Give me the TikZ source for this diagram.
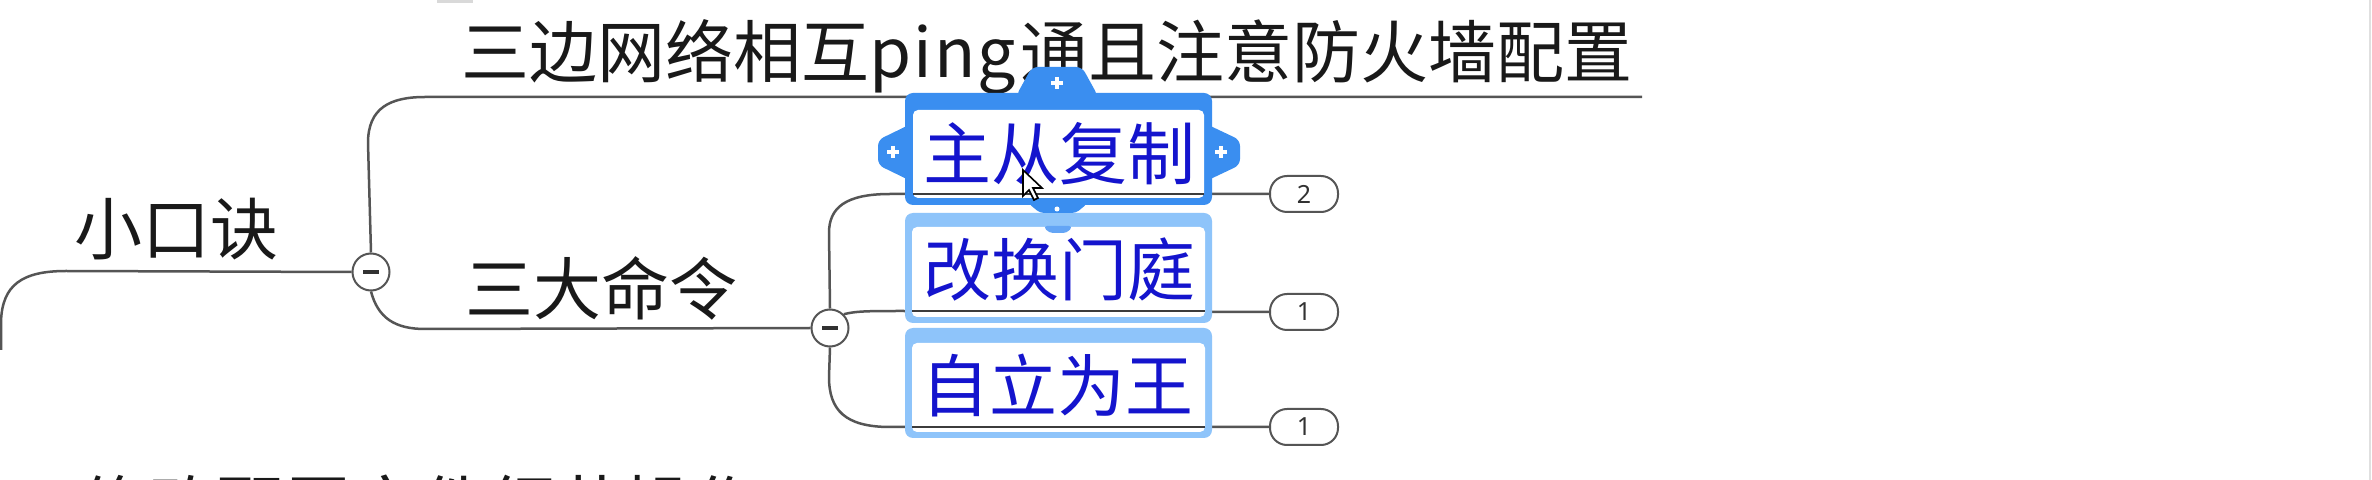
\documentclass[tikz,border=0pt]{standalone}
\usepackage{fontspec}
\usetikzlibrary{calc}
\newfontfamily\cjk{Noto Sans CJK SC}
\newfontfamily\numfont{Noto Sans}
\definecolor{linegray}{RGB}{85,85,85}
\definecolor{textblack}{RGB}{25,25,25}
\definecolor{textblue}{RGB}{20,20,205}
\definecolor{selblue}{RGB}{58,142,240}
\definecolor{lightsel}{RGB}{142,196,250}
\definecolor{midsel}{RGB}{100,165,245}
\definecolor{textdark}{RGB}{50,50,50}
\begin{document}
\begin{tikzpicture}[x=0.5pt,y=-0.5pt]
\tikzset{
  conn/.style={draw=linegray, line width=1.25pt},
  inline/.style={draw=textblack!85, line width=1.25pt},
  topic/.style={inner sep=0pt, anchor=base west, font=\cjk\fontsize{34pt}{34pt}\selectfont, text=textblack},
  seltopic/.style={topic, text=textblue},
  fold/.style={circle, draw=linegray, fill=white, line width=1pt, minimum size=18.5pt, inner sep=0pt},
  badge/.style={rounded corners=8.5pt, draw=linegray, fill=white, line width=1pt, minimum width=34pt, minimum height=18pt, inner sep=0pt, font=\numfont\fontsize{12.5pt}{12.5pt}\selectfont, text=textdark},
  plusmark/.style={draw=white, line width=2pt},
}
\useasboundingbox (0,0) rectangle (2372,480);
\clip (0,0) rectangle (2372,480);
\fill[white] (0,0) rectangle (2372,480);
% screen artefacts
\fill[black!15] (437,0) rectangle (473,3);
\draw[black!12, line width=1pt] (2370,0) -- (2370,480);

% fold circles
\node[fold] (c1) at (371,272) {};
\node[fold] (c2) at (830,328) {};

% texts
\node[topic] (root) at (74,255) {小口诀};
\node[topic] (t1) at (461,78) {三边网络相互p\kern1pt i\kern1pt n\kern1pt g\kern2pt 通且注意防火墙配置};
\node[topic] (t2) at (465,315) {三大命令};
\node[topic] (t3) at (80,532) {修改配置文件细节操作};

% badges
\node[badge] (n1) at (1304,194) {2};
\node[badge] (n2) at (1304,312) {1};
\node[badge] (n3) at (1304,427) {1};

% coordinates for line ends
\coordinate (rootL) at (1,350);
\coordinate (u1a) at (425,97);
\coordinate (u1b) at (1642,97);
\coordinate (u2a) at (425,329);

% root branch
\draw[conn] (c1.west) -- (66,271) .. controls (22,271) and (2,285) .. (1,322) -- (rootL);
% to top text
\draw[conn] (c1.north) -- (368,143) .. controls (368,108) and (390,97) .. (u1a) -- (u1b);
% to 三大命令
\draw[conn] (c1.south) .. controls (378,318) and (395,329) .. (u2a) -- (c2.west);
% c2 branches
\draw[conn] (c2.north) -- (829,233) .. controls (829,208) and (845,194) .. (890,194) -- (n1.west);
\draw[conn] (c2.north east) .. controls (856,311) and (870,311) .. (903,311) -- (n2.west);
\draw[conn] (c2.south) -- (829,377) .. controls (829,410) and (845,427) .. (890,427) -- (n3.west);

% minus signs
\draw[textdark, line width=1.6pt] ($(c1)+(-8,0)$) -- ($(c1)+(8,0)$);
\draw[textdark, line width=1.6pt] ($(c2)+(-8,0)$) -- ($(c2)+(8,0)$);

% box 2 and 3 (light selection)
\fill[lightsel, rounded corners=4pt] (905,213) rectangle (1212,323);
\fill[white, rounded corners=2.5pt] (912,227) rectangle (1205,317);
\fill[lightsel, rounded corners=4pt] (905,328) rectangle (1212,438);
\fill[white, rounded corners=2.5pt] (912,343) rectangle (1205,432);

% box 1 (selected) with handles
\fill[selblue, rounded corners=3pt] (1016,96) -- (1032,67) -- (1082,67) -- (1098,96) -- cycle;
\fill[selblue, rounded corners=3pt] (915,122) -- (878,140) -- (878,165) -- (915,183) -- cycle;
\fill[selblue, rounded corners=3pt] (1202,122) -- (1240,140) -- (1240,165) -- (1202,183) -- cycle;
\fill[selblue, rounded corners=2pt] (1028,203) -- (1040,213) -- (1076,213) -- (1088,203) -- cycle;
\fill[midsel, rounded corners=2pt] (1043,226) -- (1049,233) -- (1067,233) -- (1073,226) -- cycle;
\fill[selblue, rounded corners=4pt] (905,93) rectangle (1212,205);
\fill[white, rounded corners=2.5pt] (913,110) rectangle (1204,198);
\draw[plusmark] (1051,83) -- (1063,83) (1057,77) -- (1057,89);
\draw[plusmark] (887,152) -- (899,152) (893,146) -- (893,158);
\draw[plusmark] (1215,152) -- (1227,152) (1221,146) -- (1221,158);
\fill[white] (1057,209) circle (2.5);

% underlines inside boxes
\draw[inline] (913,194) -- (1204,194);
\draw[inline] (912,311) -- (1205,311);
\draw[inline] (912,427) -- (1205,427);

% box texts
\node[seltopic] (b1) at (923,180) {主从复制};
\node[seltopic] (b2) at (923,296) {改换门庭};
\node[seltopic] (b3) at (921,412) {自立为王};

% mouse cursor
\draw[black, fill=white, line width=0.8pt, line join=miter]
  (1023,170) -- (1023,196) -- (1029,190) -- (1034,200) -- (1038,198) -- (1033,188) -- (1042,188) -- cycle;
\end{tikzpicture}
\end{document}
